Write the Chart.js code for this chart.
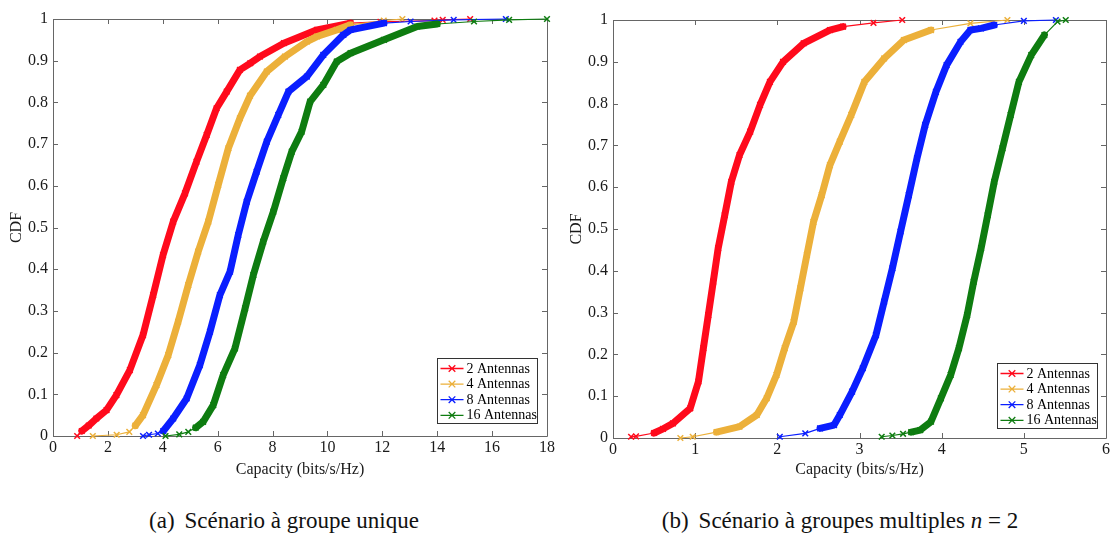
<!DOCTYPE html>
<html>
<head>
<meta charset="utf-8">
<script src="https://cdn.jsdelivr.net/npm/chart.js@4.4.1/dist/chart.umd.min.js"></script>
<style>
  html, body { margin: 0; padding: 0; background: #fff; }
  body { width: 1114px; height: 541px; position: relative; overflow: hidden;
         font-family: "Liberation Serif", "DejaVu Serif", serif; }
  .panel { position: absolute; top: 0; height: 490px; }
  #leftWrap { left: 0; width: 557px; }
  #rightWrap { left: 558px; width: 556px; }
  .caption { position: absolute; top: 508px; font-size: 23px; color: #111;
             white-space: nowrap; transform: translateX(-50%); }
  .caption .tag { margin-right: 10px; }
</style>
</head>
<body>
<div class="panel" id="leftWrap"><canvas id="chartUnique" width="557" height="490"></canvas></div>
<div class="panel" id="rightWrap"><canvas id="chartMultiple" width="556" height="490"></canvas></div>
<div class="caption" style="left:284px"><span class="tag">(a)</span>Scénario à groupe unique</div>
<div class="caption" style="left:840px"><span class="tag">(b)</span>Scénario à groupes multiples <i>n</i> = 2</div>

<script>
// ---- series labels and colours ----
const seriesLabels = ['2 Antennas', '4 Antennas', '8 Antennas', '16 Antennas'];
const seriesColors = ['#ff0a1c', '#ecb03a', '#0a1eff', '#0e7c10'];

// ---- axis ticks ----
const cdfTicks = [0, 0.1, 0.2, 0.3, 0.4, 0.5, 0.6, 0.7, 0.8, 0.9, 1];
const capacityTicksUnique = [0, 2, 4, 6, 8, 10, 12, 14, 16, 18];
const capacityTicksMultiple = [0, 1, 2, 3, 4, 5, 6];

// ---- (a) single group: capacity (bits/s/Hz) and CDF ----
const capUnique2 = [0.88, 1.05, 1.30, 1.58, 1.95, 2.31, 2.80, 3.28, 3.65, 4.01, 4.38, 4.81, 5.23, 5.60, 5.96, 6.33, 6.81, 7.19, 7.54, 8.41, 9.62, 10.84, 11.93, 13.9, 14.2, 15.2];
const cdfUnique2 = [0.0, 0.012, 0.025, 0.042, 0.062, 0.098, 0.158, 0.242, 0.338, 0.434, 0.514, 0.582, 0.658, 0.722, 0.786, 0.826, 0.878, 0.894, 0.910, 0.942, 0.974, 0.990, 0.993, 0.996, 0.998, 1.0];

const capUnique4 = [1.45, 2.32, 2.78, 3.0, 3.28, 3.77, 4.20, 4.56, 4.93, 5.29, 5.66, 6.02, 6.39, 6.81, 7.18, 7.79, 8.45, 9.25, 9.62, 10.34, 10.84, 12.05, 12.73];
const cdfUnique4 = [0.0, 0.003, 0.010, 0.025, 0.050, 0.122, 0.194, 0.274, 0.362, 0.442, 0.514, 0.602, 0.690, 0.762, 0.816, 0.874, 0.910, 0.946, 0.958, 0.974, 0.986, 0.996, 1.0];

const capUnique8 = [3.28, 3.50, 3.82, 4.02, 4.38, 4.87, 5.35, 5.72, 6.08, 6.45, 6.75, 7.06, 7.42, 7.79, 8.21, 8.58, 9.25, 9.85, 10.58, 10.84, 12.06, 13.03, 14.6, 16.5];
const cdfUnique8 = [0.0, 0.003, 0.006, 0.012, 0.042, 0.090, 0.170, 0.250, 0.338, 0.394, 0.482, 0.562, 0.634, 0.706, 0.770, 0.826, 0.862, 0.914, 0.962, 0.974, 0.990, 0.994, 0.998, 1.0];

const capUnique16 = [4.10, 4.60, 4.93, 5.20, 5.47, 5.84, 6.20, 6.63, 7.00, 7.30, 7.66, 8.03, 8.39, 8.70, 9.06, 9.37, 9.85, 10.34, 10.84, 12.06, 13.27, 14.0, 15.34, 16.62, 18];
const cdfUnique16 = [0.0, 0.004, 0.010, 0.020, 0.034, 0.074, 0.146, 0.210, 0.306, 0.386, 0.466, 0.538, 0.618, 0.682, 0.730, 0.802, 0.842, 0.898, 0.918, 0.950, 0.982, 0.988, 0.994, 0.998, 1.0];

// ---- (b) multiple groups, n = 2 ----
const capMultiple2 = [0.22, 0.28, 0.50, 0.61, 0.73, 0.94, 1.04, 1.10, 1.16, 1.22, 1.28, 1.36, 1.44, 1.54, 1.67, 1.79, 1.91, 2.07, 2.32, 2.64, 2.80, 3.17, 3.52];
const cdfMultiple2 = [0.003, 0.004, 0.012, 0.022, 0.035, 0.071, 0.135, 0.215, 0.294, 0.374, 0.454, 0.533, 0.613, 0.677, 0.733, 0.797, 0.852, 0.900, 0.944, 0.976, 0.984, 0.993, 1.0];

const capMultiple4 = [0.82, 0.97, 1.26, 1.54, 1.75, 1.87, 1.99, 2.09, 2.20, 2.28, 2.36, 2.44, 2.54, 2.64, 2.76, 2.90, 3.06, 3.30, 3.54, 3.87, 4.35, 4.80];
const cdfMultiple4 = [0.0, 0.003, 0.014, 0.027, 0.055, 0.095, 0.151, 0.215, 0.278, 0.358, 0.438, 0.517, 0.581, 0.653, 0.709, 0.773, 0.852, 0.908, 0.952, 0.976, 0.992, 1.0];

const capMultiple8 = [2.03, 2.34, 2.52, 2.69, 2.76, 2.91, 3.04, 3.20, 3.30, 3.40, 3.50, 3.60, 3.70, 3.80, 3.93, 4.06, 4.23, 4.35, 4.48, 4.64, 5.00, 5.39];
const cdfMultiple8 = [0.003, 0.011, 0.023, 0.031, 0.055, 0.111, 0.167, 0.246, 0.326, 0.406, 0.494, 0.581, 0.669, 0.749, 0.828, 0.892, 0.948, 0.976, 0.980, 0.988, 0.998, 1.0];

const capMultiple16 = [3.27, 3.40, 3.53, 3.63, 3.74, 3.87, 3.99, 4.11, 4.21, 4.31, 4.39, 4.48, 4.56, 4.64, 4.74, 4.84, 4.94, 5.09, 5.25, 5.41, 5.51];
const cdfMultiple16 = [0.003, 0.006, 0.010, 0.014, 0.019, 0.039, 0.095, 0.151, 0.215, 0.294, 0.374, 0.454, 0.533, 0.613, 0.693, 0.773, 0.852, 0.916, 0.964, 0.996, 1.0];

// ---- styling ----
const serif = '"Liberation Serif", "Times New Roman", serif';
const textColor = '#1a1a1a';
const frameColor = '#666666';
const bandWidth = 7;     // dense part of each empirical CDF
const tailWidth = 1.2;   // sparse tails

function toPoints(xs, ys) { return xs.map((x, i) => ({ x: x, y: ys[i] })); }

function makeDatasets(pairs) {
  return pairs.map((p, i) => ({
    label: seriesLabels[i],
    data: toPoints(p[0], p[1]),
    borderColor: seriesColors[i],
    backgroundColor: seriesColors[i],
    borderWidth: tailWidth,
    borderJoinStyle: 'round',
    borderCapStyle: 'round',
    segment: {
      borderWidth: c => (c.p0.parsed.y >= 0.012 && c.p1.parsed.y <= 0.99) ? bandWidth : tailWidth
    },
    pointStyle: 'crossRot',
    pointRadius: 4,
    pointBorderWidth: 1.5,
    pointBorderColor: seriesColors[i],
    tension: 0,
    clip: false,
    order: pairs.length - 1 - i
  }));
}

// Box around the plot area with inward ticks on all four sides
const framePlugin = {
  id: 'frame',
  beforeDatasetsDraw(chart) {
    const { ctx, chartArea: a, scales } = chart;
    const len = 5;
    ctx.save();
    ctx.strokeStyle = frameColor;
    ctx.lineWidth = 1;
    ctx.beginPath();
    ctx.rect(Math.round(a.left) + 0.5, Math.round(a.top) + 0.5,
             Math.round(a.right - a.left), Math.round(a.bottom - a.top));
    scales.x.ticks.forEach(t => {
      const px = Math.round(scales.x.getPixelForValue(t.value)) + 0.5;
      ctx.moveTo(px, a.bottom); ctx.lineTo(px, a.bottom - len);
      ctx.moveTo(px, a.top); ctx.lineTo(px, a.top + len);
    });
    scales.y.ticks.forEach(t => {
      const py = Math.round(scales.y.getPixelForValue(t.value)) + 0.5;
      ctx.moveTo(a.left, py); ctx.lineTo(a.left + len, py);
      ctx.moveTo(a.right, py); ctx.lineTo(a.right - len, py);
    });
    ctx.stroke();
    ctx.restore();
  }
};

// Legend box in the lower-right corner of the plot area
const cornerLegendPlugin = {
  id: 'cornerLegend',
  afterDraw(chart, args, opts) {
    const { ctx, chartArea: a } = chart;
    const w = 100, h = 65;
    const x0 = Math.round(a.right - opts.right - w) + 0.5;
    const y0 = Math.round(a.bottom - opts.bottom - h) + 0.5;
    ctx.save();
    ctx.fillStyle = '#fff';
    ctx.fillRect(x0, y0, w, h);
    ctx.strokeStyle = '#333';
    ctx.lineWidth = 1;
    ctx.strokeRect(x0, y0, w, h);
    ctx.font = '14px ' + serif;
    ctx.textBaseline = 'middle';
    chart.data.datasets.forEach((ds, i) => {
      const yy = y0 + 10 + i * 15.6;
      ctx.strokeStyle = ds.borderColor;
      ctx.lineWidth = 1.3;
      ctx.beginPath();
      ctx.moveTo(x0 + 3, yy); ctx.lineTo(x0 + 26, yy);
      const cx = x0 + 14.5, r = 3.3;
      ctx.moveTo(cx - r, yy - r); ctx.lineTo(cx + r, yy + r);
      ctx.moveTo(cx - r, yy + r); ctx.lineTo(cx + r, yy - r);
      ctx.stroke();
      ctx.fillStyle = '#000';
      ctx.fillText(ds.label, x0 + 29, yy + 0.5);
    });
    ctx.restore();
  }
};

function makeChart(canvasId, datasets, xMax, xTicks, geom) {
  const tickFont = { family: serif, size: 16 };
  return new Chart(document.getElementById(canvasId), {
    type: 'line',
    data: { datasets: datasets },
    plugins: [framePlugin, cornerLegendPlugin],
    options: {
      responsive: false,
      animation: false,
      events: [],
      layout: { padding: { top: geom.top, right: geom.right, bottom: 4, left: 0 } },
      plugins: {
        legend: { display: false },
        tooltip: { enabled: false },
        cornerLegend: { right: geom.legendRight, bottom: geom.legendBottom }
      },
      scales: {
        x: {
          type: 'linear', min: 0, max: xMax,
          afterBuildTicks: s => { s.ticks = xTicks.map(v => ({ value: v })); },
          afterFit: s => { s.height = geom.xHeight; },
          ticks: { font: tickFont, color: textColor, padding: 2, maxRotation: 0, autoSkip: false,
                   callback: v => String(v) },
          grid: { display: false, drawTicks: false },
          border: { display: false },
          title: { display: true, text: 'Capacity (bits/s/Hz)', font: { family: serif, size: 16 },
                   color: textColor, padding: { top: 0, bottom: 7 } }
        },
        y: {
          type: 'linear', min: 0, max: 1,
          afterBuildTicks: s => { s.ticks = cdfTicks.map(v => ({ value: v })); },
          afterFit: s => { s.width = geom.yWidth; },
          ticks: { font: tickFont, color: textColor, padding: 5, autoSkip: false,
                   callback: v => String(Math.round(v * 10) / 10) },
          grid: { display: false, drawTicks: false },
          border: { display: false },
          title: { display: true, text: 'CDF', font: { family: serif, size: 16 },
                   color: textColor, padding: { top: geom.titlePad, bottom: 0 } }
        }
      }
    }
  });
}

makeChart('chartUnique', makeDatasets([
  [capUnique2, cdfUnique2], [capUnique4, cdfUnique4],
  [capUnique8, cdfUnique8], [capUnique16, cdfUnique16]
]), 18, capacityTicksUnique,
  { top: 19, right: 10, xHeight: 50, yWidth: 53, titlePad: 7, legendRight: 10, legendBottom: 13 });

makeChart('chartMultiple', makeDatasets([
  [capMultiple2, cdfMultiple2], [capMultiple4, cdfMultiple4],
  [capMultiple8, cdfMultiple8], [capMultiple16, cdfMultiple16]
]), 6, capacityTicksMultiple,
  { top: 20, right: 8, xHeight: 48, yWidth: 55, titlePad: 9, legendRight: 9, legendBottom: 10 });
</script>
</body>
</html>
